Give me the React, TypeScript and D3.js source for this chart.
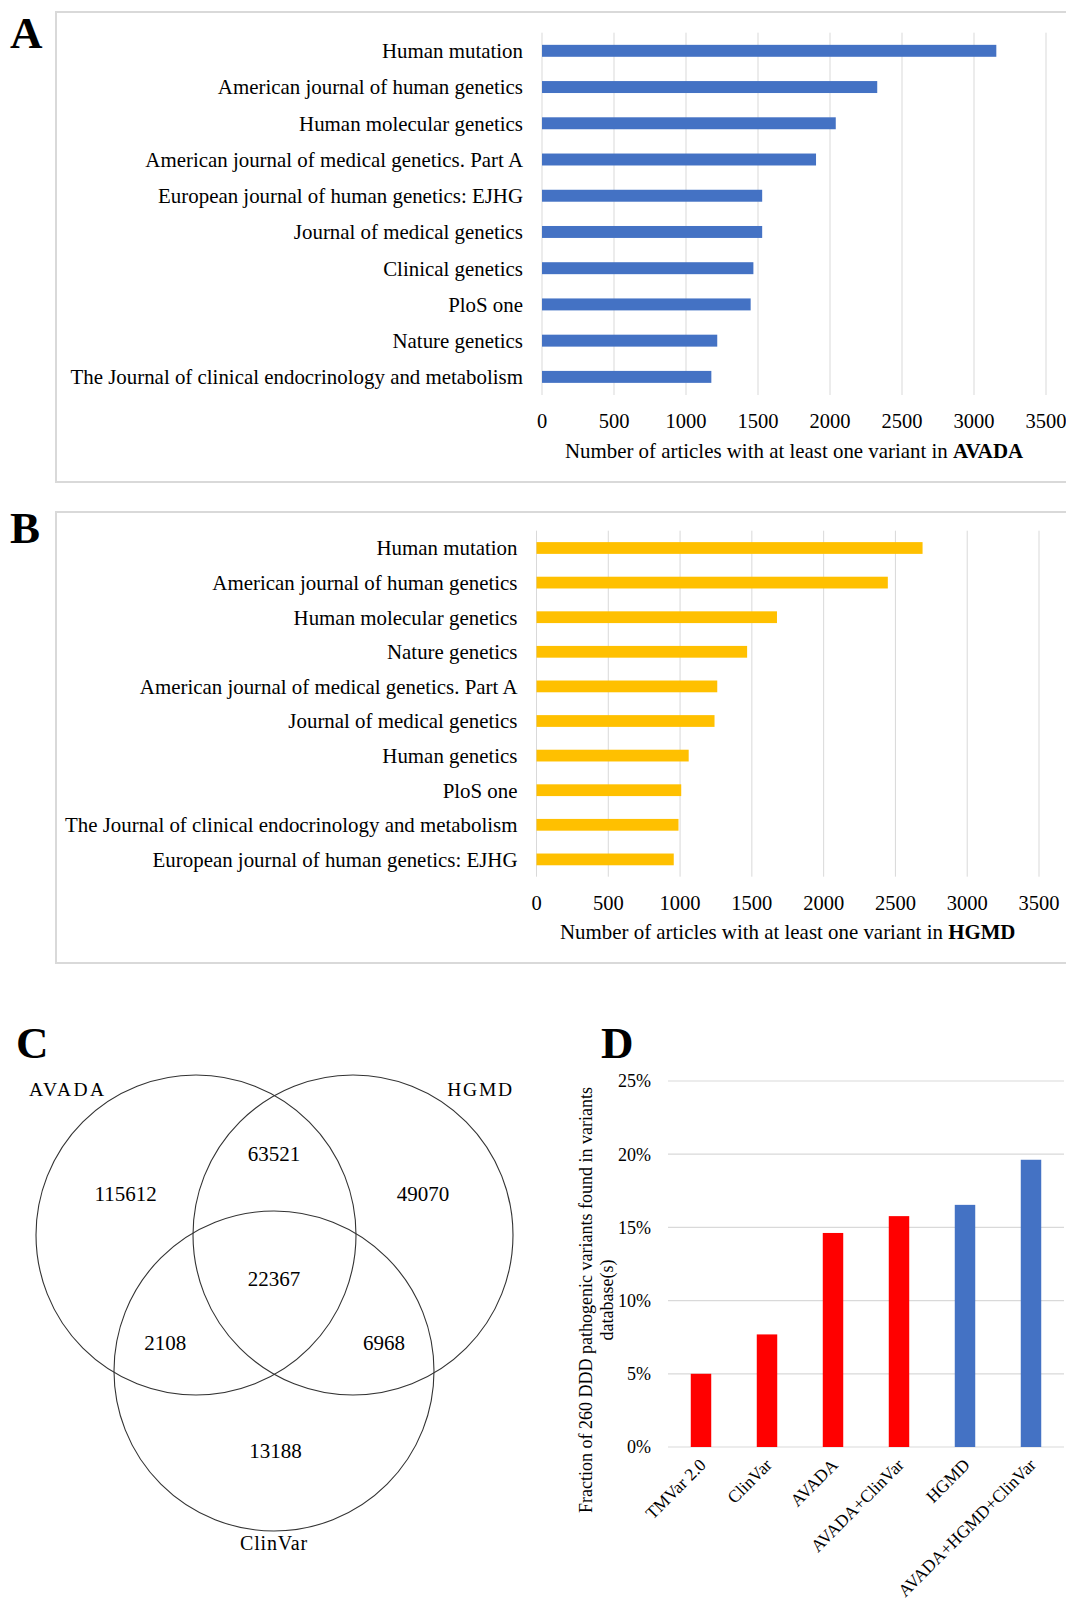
import React from 'react';
import * as d3 from 'd3';

// ---------- DATA ----------
const journalsA = [
  'Human mutation',
  'American journal of human genetics',
  'Human molecular genetics',
  'American journal of medical genetics. Part A',
  'European journal of human genetics: EJHG',
  'Journal of medical genetics',
  'Clinical genetics',
  'PloS one',
  'Nature genetics',
  'The Journal of clinical endocrinology and metabolism',
];
const countsA = [3155, 2328, 2040, 1903, 1529, 1529, 1468, 1449, 1217, 1176];

const journalsB = [
  'Human mutation',
  'American journal of human genetics',
  'Human molecular genetics',
  'Nature genetics',
  'American journal of medical genetics. Part A',
  'Journal of medical genetics',
  'Human genetics',
  'PloS one',
  'The Journal of clinical endocrinology and metabolism',
  'European journal of human genetics: EJHG',
];
const countsB = [2689, 2447, 1675, 1467, 1259, 1240, 1060, 1008, 989, 956];

const countTicks = [0, 500, 1000, 1500, 2000, 2500, 3000, 3500];

const vennSetNames = ['AVADA', 'HGMD', 'ClinVar'];
const vennRegionKeys = ['A', 'AB', 'B', 'ABC', 'AC', 'BC', 'C'];
const vennRegionValues = [115612, 63521, 49070, 22367, 2108, 6968, 13188];

const dbNames = ['TMVar 2.0', 'ClinVar', 'AVADA', 'AVADA+ClinVar', 'HGMD', 'AVADA+HGMD+ClinVar'];
const dbFractions = [0.05, 0.0769, 0.1462, 0.1577, 0.1654, 0.1962];
const dbGroups = ['text', 'text', 'text', 'text', 'hgmd', 'hgmd'];
const pctTicks = [0, 0.05, 0.1, 0.15, 0.2, 0.25];

// ---------- STYLE ----------
const FONT = '"Liberation Serif", "Times New Roman", serif';
const GRID = '#d9d9d9';

type BarPanelProps = {
  cats: string[];
  vals: number[];
  color: string;
  frameTop: number;
  frameBottom: number;
  x0: number;
  x1: number;
  gTop: number;
  gBottom: number;
  pad: number;
  tickY: number;
  titleY: number;
  db: string;
  letter: string;
  letterY: number;
};

function BarPanel(p: BarPanelProps) {
  const x = d3.scaleLinear().domain([0, 3500]).range([p.x0, p.x1]);
  const y = d3
    .scaleBand<string>()
    .domain(p.cats)
    .range([p.gTop, p.gBottom])
    .paddingInner(p.pad)
    .paddingOuter(p.pad / 2);
  return (
    <g>
      <rect
        x={56}
        y={p.frameTop}
        width={1030}
        height={p.frameBottom - p.frameTop}
        fill="none"
        stroke={GRID}
        strokeWidth={2}
      />
      <text x={10} y={p.letterY} fontFamily={FONT} fontWeight="bold" fontSize={45}>
        {p.letter}
      </text>
      {countTicks.map((t) => (
        <line key={t} x1={x(t)} x2={x(t)} y1={p.gTop} y2={p.gBottom} stroke={GRID} strokeWidth={1} />
      ))}
      {p.cats.map((c, i) => (
        <rect
          key={c}
          x={x(0)}
          y={y(c)!}
          width={x(p.vals[i]) - x(0)}
          height={y.bandwidth()}
          fill={p.color}
        />
      ))}
      {p.cats.map((c) => (
        <text
          key={c}
          x={p.x0 - 19}
          y={y(c)! + y.bandwidth() / 2}
          dy="0.35em"
          textAnchor="end"
          fontFamily={FONT}
          fontSize={20.9}
          fill="#000"
        >
          {c}
        </text>
      ))}
      {countTicks.map((t) => (
        <text
          key={t}
          x={x(t)}
          y={p.tickY}
          dy="0.35em"
          textAnchor="middle"
          fontFamily={FONT}
          fontSize={20.5}
        >
          {t}
        </text>
      ))}
      <text
        x={(p.x0 + p.x1) / 2}
        y={p.titleY}
        dy="0.35em"
        textAnchor="middle"
        fontFamily={FONT}
        fontSize={20.9}
      >
        Number of articles with at least one variant in{' '}
        <tspan fontWeight="bold">{p.db}</tspan>
      </text>
    </g>
  );
}

function Venn() {
  const r = 160;
  const centers: Record<string, [number, number]> = {
    AVADA: [196, 1235],
    HGMD: [353, 1235],
    ClinVar: [274, 1371],
  };
  const regionPos: Record<string, [number, number]> = {
    A: [125.7, 1194],
    AB: [274, 1153.5],
    B: [423, 1194],
    ABC: [274, 1278.5],
    AC: [165.3, 1342.4],
    BC: [384, 1342.4],
    C: [275.5, 1450.7],
  };
  return (
    <g>
      <text x={16} y={1058} fontFamily={FONT} fontWeight="bold" fontSize={45}>
        C
      </text>
      {vennSetNames.map((s) => (
        <circle key={s} cx={centers[s][0]} cy={centers[s][1]} r={r} fill="none" stroke="#333" strokeWidth={1.1} />
      ))}
      <text x={29} y={1096} fontFamily={FONT} fontSize={19.5} letterSpacing={2.4}>
        {vennSetNames[0]}
      </text>
      <text x={514} y={1096} textAnchor="end" fontFamily={FONT} fontSize={19.5} letterSpacing={1.8}>
        {vennSetNames[1]}
      </text>
      <text x={274} y={1550} textAnchor="middle" fontFamily={FONT} fontSize={20} letterSpacing={0.8}>
        {vennSetNames[2]}
      </text>
      {vennRegionKeys.map((k, i) => (
        <text
          key={k}
          x={regionPos[k][0]}
          y={regionPos[k][1]}
          dy="0.35em"
          textAnchor="middle"
          fontFamily={FONT}
          fontSize={21}
        >
          {vennRegionValues[i]}
        </text>
      ))}
    </g>
  );
}

function PanelD() {
  const x = d3.scaleBand<string>().domain(dbNames).range([668, 1064]).paddingInner(0.69).paddingOuter(0.345);
  const y = d3.scaleLinear().domain([0, 0.25]).range([1447, 1081]);
  const color = d3.scaleOrdinal<string, string>().domain(['text', 'hgmd']).range(['#FF0000', '#4472C4']);
  const fmt = d3.format('.0%');
  return (
    <g>
      <text x={601} y={1058} fontFamily={FONT} fontWeight="bold" fontSize={45}>
        D
      </text>
      {pctTicks.map((t) => (
        <line key={t} x1={668} x2={1064} y1={y(t)} y2={y(t)} stroke={GRID} strokeWidth={1.2} />
      ))}
      {pctTicks.map((t) => (
        <text key={t} x={651} y={y(t)} dy="0.35em" textAnchor="end" fontFamily={FONT} fontSize={18}>
          {fmt(t)}
        </text>
      ))}
      {dbNames.map((n, i) => (
        <rect
          key={n}
          x={x(n)!}
          y={y(dbFractions[i])}
          width={x.bandwidth()}
          height={y(0) - y(dbFractions[i])}
          fill={color(dbGroups[i])}
        />
      ))}
      {dbNames.map((n) => {
        const cx = x(n)! + x.bandwidth() / 2 + 6;
        const cy = 1466;
        return (
          <text
            key={n}
            transform={`translate(${cx},${cy}) rotate(-45)`}
            textAnchor="end"
            fontFamily={FONT}
            fontSize={17.5}
          >
            {n}
          </text>
        );
      })}
      <text transform="translate(591.5,1300) rotate(-90)" textAnchor="middle" fontFamily={FONT} fontSize={18}>
        Fraction of 260 DDD pathogenic variants found in variants
      </text>
      <text transform="translate(612.5,1300) rotate(-90)" textAnchor="middle" fontFamily={FONT} fontSize={18}>
        database(s)
      </text>
    </g>
  );
}

export default function App() {
  return (
    <svg
      width={1066}
      height={1608}
      viewBox="0 0 1066 1608"
      style={{ position: 'absolute', left: 0, top: 0, background: '#fff' }}
    >
      <rect x={0} y={0} width={1066} height={1608} fill="#fff" />
      <BarPanel
        cats={journalsA}
        vals={countsA}
        color="#4472C4"
        frameTop={12}
        frameBottom={482}
        x0={542}
        x1={1046}
        gTop={32.7}
        gBottom={395}
        pad={0.67}
        tickY={421}
        titleY={451}
        db="AVADA"
        letter="A"
        letterY={48}
      />
      <BarPanel
        cats={journalsB}
        vals={countsB}
        color="#FFC000"
        frameTop={512}
        frameBottom={963}
        x0={536.5}
        x1={1039}
        gTop={530.7}
        gBottom={876.7}
        pad={0.66}
        tickY={903}
        titleY={932}
        db="HGMD"
        letter="B"
        letterY={543}
      />
      <Venn />
      <PanelD />
    </svg>
  );
}
